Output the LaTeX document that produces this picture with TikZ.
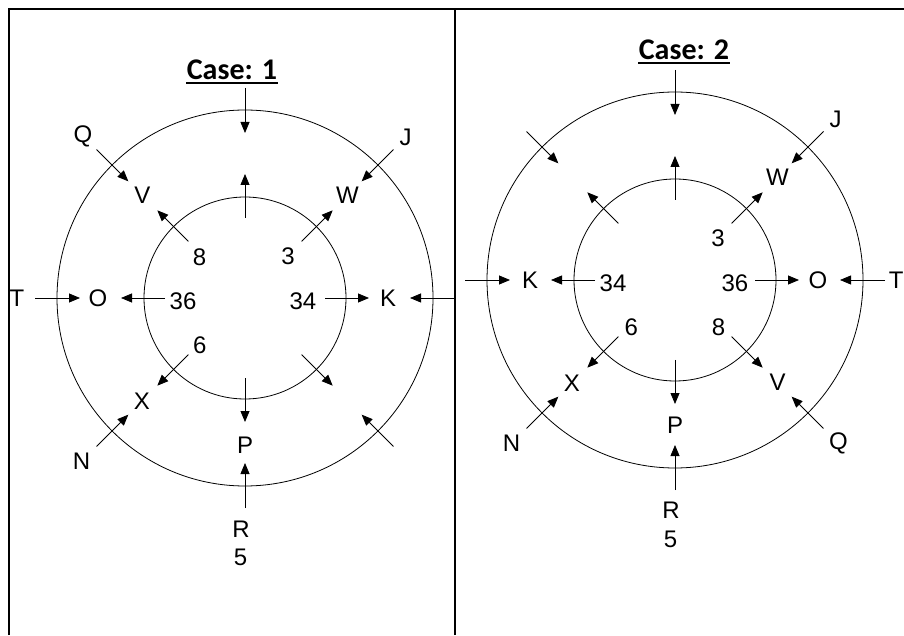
\documentclass[tikz,border=0pt]{standalone}
\usepackage{fontspec}
\setmainfont{Liberation Sans}
\newfontfamily\titlefont{Carlito}
\usetikzlibrary{arrows.meta}

\begin{document}
\begin{tikzpicture}[x=1pt, y=1pt, line width=0.8pt,
    >={Triangle[length=11pt, width=9pt]},
    lbl/.style={font=\fontsize{24}{24}\selectfont, inner sep=0pt},
    casetitle/.style={font=\titlefont\bfseries\fontsize{30}{30}\selectfont, inner sep=0pt, anchor=base}]
    \def\Ro{188pt}
    \def\Ri{101pt}
    \useasboundingbox (0,0) rectangle (904,635);
    % table frame
    \draw[line width=2pt] (9,0) -- (9,626) -- (904,626);
    \draw[line width=2pt] (455,0) -- (455,626);

    % ---- case 1 ----
    \node[casetitle] (case1) at (232,555) {Case: 1};
    \draw[line width=2pt] ([yshift=-3pt]case1.base west) -- ([yshift=-3pt]case1.base east);
    \begin{scope}[shift={(245,337)}]
        \draw (0,0) circle[radius=\Ro] (0,0) circle[radius=\Ri];
        % arrows across both rings
        \foreach \a in {0,45,...,315} {
            \coordinate (oa) at (\a:210pt);
            \coordinate (ob) at (\a:165pt);
            \coordinate (ia) at (\a:80pt);
            \coordinate (ib) at (\a:124pt);
            \draw[->] (oa) -- (ob);
            \draw[->] (ia) -- (ib);
        }
        % outer labels
        \node[lbl] (Q1) at (135:229pt) {Q};
        \node[lbl] (J1) at (45:227pt) {J};
        \node[lbl] (T1) at (180:228pt) {T};
        \node[lbl] (N1) at (225:231pt) {N};
        \node[lbl] (R1) at (-91:231pt) {R};
        \node[lbl] (F1) at (-91:259pt) {5};
        % letters between the rings
        \node[lbl] (V1) at (135:145pt) {V};
        \node[lbl] (W1) at (45:145pt) {W};
        \node[lbl] (O1) at (180:147pt) {O};
        \node[lbl] (K1) at (0:143pt) {K};
        \node[lbl] (X1) at (225:146pt) {X};
        \node[lbl] (P1) at (-90:147pt) {P};
        % numbers inside
        \node[lbl] (n8a) at (138:61pt) {8};
        \node[lbl] (n3a) at (44:60pt) {3};
        \node[lbl] (n36a) at (183:62pt) {36};
        \node[lbl] (n34a) at (-3:58pt) {34};
        \node[lbl] (n6a) at (226:65pt) {6};
    \end{scope}

    % ---- case 2 ----
    \node[casetitle] (case2) at (684,575) {Case: 2};
    \draw[line width=2pt] ([yshift=-3pt]case2.base west) -- ([yshift=-3pt]case2.base east);
    \begin{scope}[shift={(675,355)}]
        \draw (0,0) circle[radius=\Ro] (0,0) circle[radius=\Ri];
        % arrows across both rings
        \foreach \a in {0,45,...,315} {
            \coordinate (oa) at (\a:210pt);
            \coordinate (ob) at (\a:165pt);
            \coordinate (ia) at (\a:80pt);
            \coordinate (ib) at (\a:124pt);
            \draw[->] (oa) -- (ob);
            \draw[->] (ia) -- (ib);
        }
        % outer labels (T sits against the right edge)
        \node[lbl] (J2) at (45:227pt) {J};
        \node[lbl, anchor=east] (T2) at (229pt,0) {T};
        \node[lbl] (Q2) at (-45:231pt) {Q};
        \node[lbl] (N2) at (225:231pt) {N};
        \node[lbl] (R2) at (-91:230pt) {R};
        \node[lbl] (F2) at (-91:259pt) {5};
        % letters between the rings
        \node[lbl] (W2) at (45:145pt) {W};
        \node[lbl] (K2) at (180:145pt) {K};
        \node[lbl] (O2) at (0:143pt) {O};
        \node[lbl] (X2) at (225:146pt) {X};
        \node[lbl] (V2) at (-45:145pt) {V};
        \node[lbl] (P2) at (-90:145pt) {P};
        % numbers inside
        \node[lbl] (n3b) at (44:60pt) {3};
        \node[lbl] (n34b) at (183:62pt) {34};
        \node[lbl] (n36b) at (-3:60pt) {36};
        \node[lbl] (n6b) at (227:64pt) {6};
        \node[lbl] (n8b) at (-47:64pt) {8};
    \end{scope}
\end{tikzpicture}
\end{document}
